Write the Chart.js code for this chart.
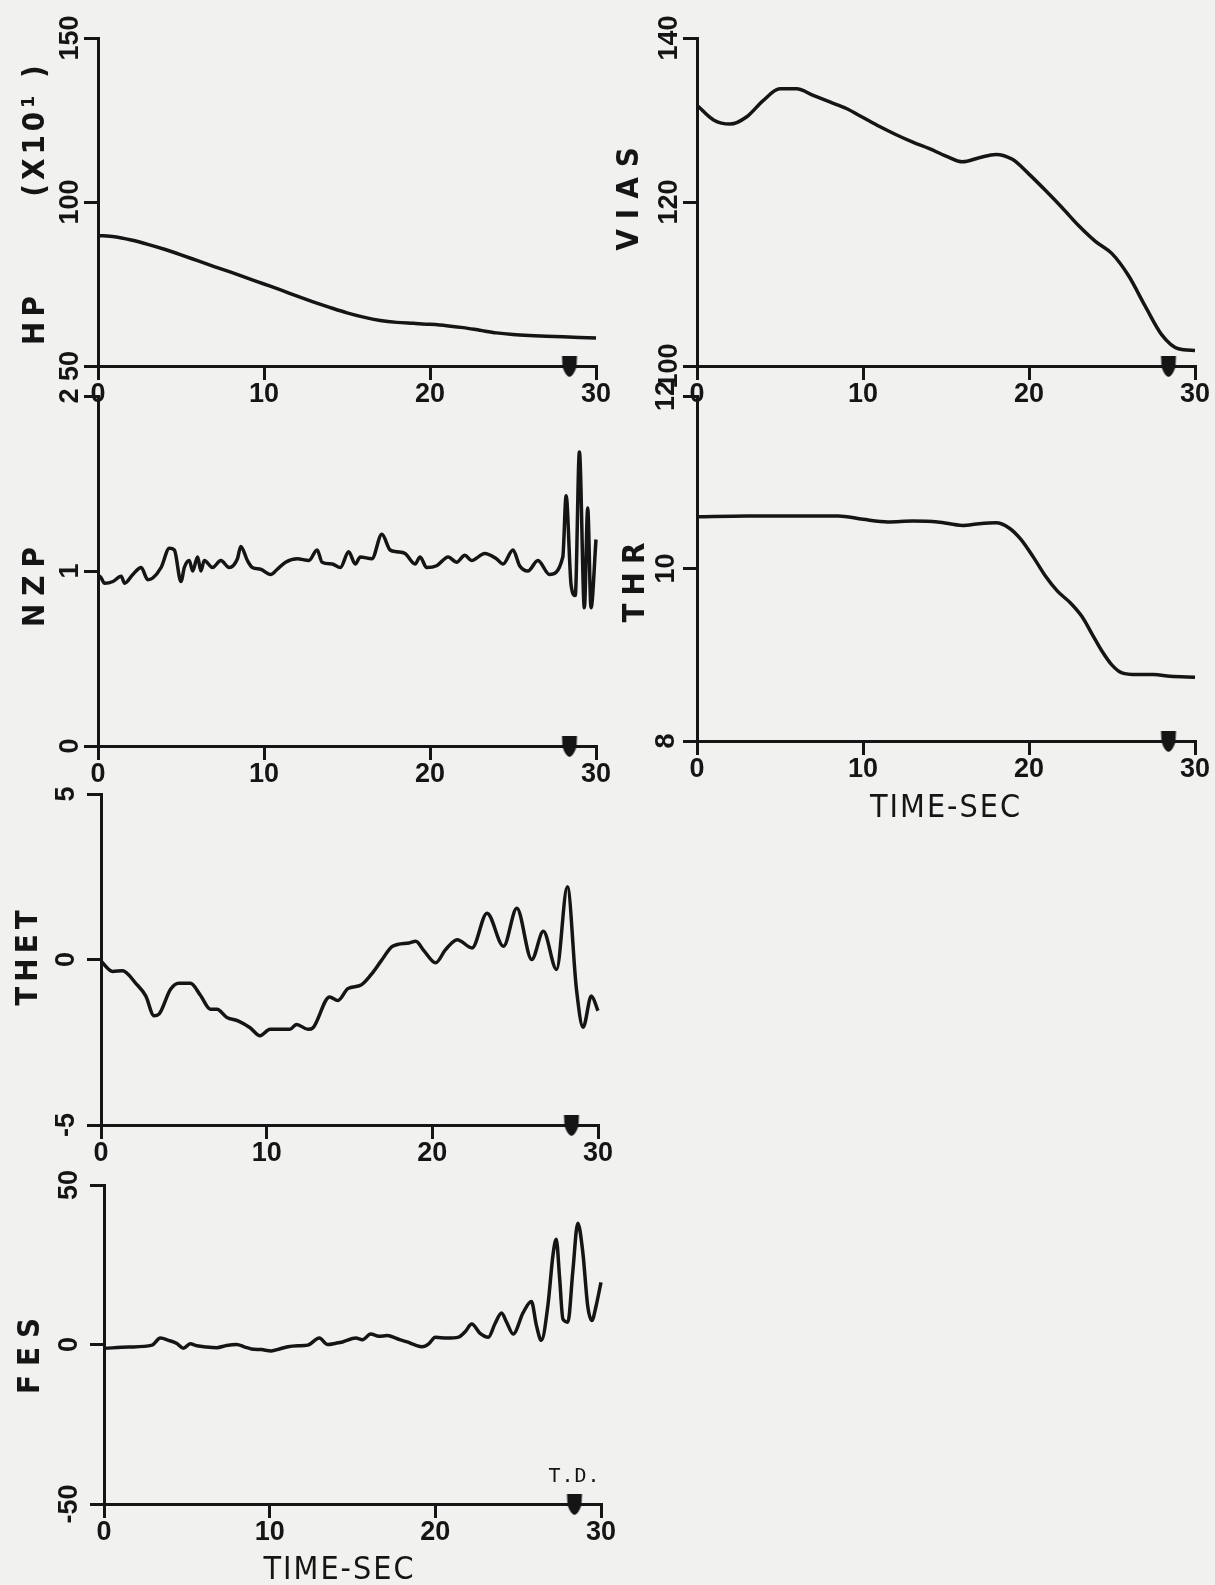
<!DOCTYPE html>
<html>
<head>
<meta charset="utf-8">
<script src="https://cdn.jsdelivr.net/npm/chart.js@4.4.1/dist/chart.umd.min.js"></script>
<style>
    html, body { margin: 0; padding: 0; background: #f1f1ef; }
    body { width: 1215px; height: 1585px; position: relative; overflow: hidden; }
    .panel { position: absolute; }
</style>
</head>
<body>
<div class="panel" id="hpPanel"><canvas id="hpChart"></canvas></div>
<div class="panel" id="viasPanel"><canvas id="viasChart"></canvas></div>
<div class="panel" id="nzpPanel"><canvas id="nzpChart"></canvas></div>
<div class="panel" id="thrPanel"><canvas id="thrChart"></canvas></div>
<div class="panel" id="thetPanel"><canvas id="thetChart"></canvas></div>
<div class="panel" id="fesPanel"><canvas id="fesChart"></canvas></div>

<script>
/*** ===========================
 *  DATA
 *  =========================== ***/
const xTicks = [0, 10, 20, 30];
const tdTime = 28.4; // touchdown marker

// HP and VIAS sampled every second
const secTime = [0, 1, 2, 3, 4, 5, 6, 7, 8, 9, 10, 11, 12, 13, 14, 15, 16, 17, 18, 19, 20, 21, 22, 23, 24, 25, 26, 27, 28, 29, 30];
const hpValues = [89.8, 89.4, 88.4, 87.1, 85.6, 83.9, 82.1, 80.3, 78.6, 76.8, 75.0, 73.2, 71.3, 69.5, 67.8, 66.2,
    64.9, 63.9, 63.3, 63.0, 62.7, 62.3, 61.7, 60.9, 60.1, 59.6, 59.3, 59.1, 58.9, 58.7, 58.5];
const viasValues = [131.8, 130.0, 129.5, 130.4, 132.4, 133.8, 133.8, 133.0, 132.2, 131.4, 130.3, 129.2, 128.2, 127.3,
    126.5, 125.6, 124.9, 125.4, 125.8, 125.2, 123.4, 121.4, 119.3, 117.1, 115.2, 113.7, 111.0, 107.3, 103.8, 102.1, 101.9];

const nzpTime = [0, 0.1, 0.4, 0.9, 1.4, 1.6, 2.1, 2.6, 3.0, 3.3, 3.8, 4.3, 4.6, 5.0, 5.2, 5.5, 5.7, 6.0, 6.2, 6.4,
    6.9, 7.4, 7.9, 8.4, 8.6, 9.0, 9.3, 9.8, 10.4, 10.8, 11.3, 12.0, 12.7, 13.2, 13.5, 14.1, 14.6, 15.1, 15.5, 15.8,
    16.5, 17.1, 17.6, 18.0, 18.5, 19.1, 19.4, 19.8, 20.4, 21.1, 21.6, 22.1, 22.5, 23.3, 24.0, 24.4, 25.0, 25.4, 25.9,
    26.5, 27.2, 28.0, 28.2, 28.5, 28.75, 29.0, 29.3, 29.5, 29.7, 30.0];
const nzpValues = [0.97, 0.97, 0.93, 0.94, 0.97, 0.93, 0.98, 1.02, 0.95, 0.96, 1.02, 1.13, 1.12, 0.94, 1.02, 1.06,
    1.00, 1.08, 1.00, 1.06, 1.02, 1.06, 1.02, 1.07, 1.14, 1.06, 1.02, 1.01, 0.98, 1.01, 1.05, 1.07, 1.06, 1.12, 1.05,
    1.04, 1.02, 1.11, 1.04, 1.08, 1.07, 1.21, 1.12, 1.11, 1.10, 1.04, 1.08, 1.02, 1.03, 1.08, 1.05, 1.09, 1.06, 1.10,
    1.07, 1.04, 1.12, 1.03, 1.00, 1.06, 0.98, 1.08, 1.43, 0.92, 0.86, 1.68, 0.79, 1.36, 0.79, 1.18];

const thrTime = [0, 3, 6, 8.5, 10, 11.5, 13, 14.5, 16, 17, 18, 18.8, 19.5, 20.3, 21, 21.7, 22.5, 23.2, 23.8, 24.4,
    25, 25.6, 26.5, 27.5, 28.5, 30];
const thrValues = [10.60, 10.61, 10.61, 10.61, 10.57, 10.54, 10.55, 10.54, 10.50, 10.52, 10.53, 10.47, 10.34, 10.12,
    9.91, 9.74, 9.60, 9.44, 9.24, 9.04, 8.88, 8.79, 8.77, 8.77, 8.75, 8.74];

const thetTime = [0, 0.7, 1.3, 2.1, 2.7, 3.2, 3.5, 4.2, 4.7, 5.4, 6.0, 6.6, 7.0, 7.6, 8.3, 9.0, 9.6, 10.2, 11.4, 11.8,
    12.5, 12.8, 13.8, 14.3, 14.9, 15.7, 16.3, 16.9, 17.6, 18.6, 19.0, 19.5, 20.2, 20.8, 21.5, 22.4, 23.3, 24.3, 25.1,
    26.0, 26.7, 27.5, 28.15, 28.7, 29.1, 29.6, 30.0];
const thetValues = [-0.05, -0.36, -0.34, -0.72, -1.1, -1.7, -1.65, -0.9, -0.72, -0.72, -1.08, -1.5, -1.5, -1.75,
    -1.86, -2.06, -2.3, -2.11, -2.11, -1.96, -2.11, -2.06, -1.13, -1.24, -0.88, -0.77, -0.46, -0.05, 0.4, 0.5, 0.55,
    0.26, -0.1, 0.3, 0.6, 0.35, 1.4, 0.4, 1.55, 0.0, 0.85, -0.3, 2.2, -0.9, -2.05, -1.1, -1.55];

const fesTime = [0, 1.5, 2.9, 3.4, 3.9, 4.4, 4.8, 5.2, 5.6, 6.2, 6.8, 7.4, 8.0, 8.5, 8.9, 9.5, 10.1, 10.6, 11.1, 11.7,
    12.3, 13.0, 13.5, 14.0, 14.4, 15.2, 15.6, 16.1, 16.6, 17.1, 17.7, 18.3, 18.8, 19.2, 19.6, 20.0, 20.7, 21.4, 21.8,
    22.2, 22.7, 23.2, 23.6, 24.0, 24.3, 24.7, 25.3, 25.8, 26.1, 26.4, 26.8, 27.1, 27.3, 27.5, 27.7, 28.0, 28.3, 28.6,
    28.9, 29.2, 29.45, 29.7, 30.0];
const fesValues = [-1.2, -0.8, -0.2, 2.0, 1.3, 0.3, -1.2, 0.2, -0.4, -0.8, -1.0, -0.3, 0.0, -0.8, -1.4, -1.6, -2.0,
    -1.4, -0.7, -0.4, -0.2, 2.0, 0.0, 0.4, 0.8, 2.0, 1.5, 3.3, 2.6, 2.8, 1.8, 0.8, -0.2, -0.7, 0.2, 2.3, 2.0, 2.3, 4.0,
    6.4, 3.5, 2.3, 6.5, 9.9, 7.0, 3.3, 10.0, 13.5, 6.0, 1.3, 12.5, 28.0, 33.0, 21.0, 8.0, 7.0, 23.0, 38.0, 29.0, 12.0,
    7.5, 12.0, 19.5];

/*** ===========================
 *  SHARED STYLE
 *  =========================== ***/
const INK = "#151515";
const PAD = { left: 110, top: 40, right: 40, bottom: 110 };
const TICK_LEN = 14;
const TICK_FONT = 'bold 27px "Liberation Sans Narrow", "Liberation Sans", sans-serif';
const YTITLE_FONT = 'bold 31px "DejaVu Sans Condensed", "DejaVu Sans", sans-serif';
const XTITLE_FONT = '32px "DejaVu Sans Condensed", "DejaVu Sans", sans-serif';

// touchdown marker: flat top, rounded point below, straddling the axis
const tdMarker = document.createElement("canvas");
tdMarker.width = 20;
tdMarker.height = 40;
(function () {
    const c = tdMarker.getContext("2d");
    c.fillStyle = INK;
    c.beginPath();
    c.moveTo(2.5, 10);
    c.lineTo(17.5, 10);
    c.lineTo(17, 21);
    c.quadraticCurveTo(14, 30, 10, 31);
    c.quadraticCurveTo(6, 30, 3, 21);
    c.closePath();
    c.fill();
})();

function drawText(ctx, text, x, y, font, spacing, rotate) {
    ctx.save();
    ctx.translate(x, y);
    if (rotate) ctx.rotate(-Math.PI / 2);
    ctx.font = font;
    ctx.fillStyle = INK;
    ctx.textAlign = "center";
    ctx.textBaseline = "middle";
    if (spacing && "letterSpacing" in ctx) ctx.letterSpacing = spacing + "px";
    ctx.fillText(text, 0, 0);
    ctx.restore();
}

// tick labels, axis titles and the T.D. note
const panelText = {
    id: "panelText",
    afterDraw(chart, args, opts) {
        const ctx = chart.ctx;
        const area = chart.chartArea;
        const y = chart.scales.y;
        const x = chart.scales.x;
        y.ticks.forEach(t => {
            drawText(ctx, String(t.value), area.left - opts.yLabelOffset, y.getPixelForValue(t.value), TICK_FONT, 0, true);
        });
        x.ticks.forEach(t => {
            drawText(ctx, String(t.value), x.getPixelForValue(t.value), area.bottom + 29, TICK_FONT, 0, false);
        });
        const midY = (area.top + area.bottom) / 2;
        opts.titles.forEach(tt => {
            drawText(ctx, tt.text, area.left - opts.titleOffset, midY + tt.dy, YTITLE_FONT, tt.spacing || 8, true);
        });
        if (opts.xTitle) {
            drawText(ctx, "TIME-SEC", (area.left + area.right) / 2 + opts.xTitle.dx, area.bottom + opts.xTitle.dy, XTITLE_FONT, 2, false);
        }
        if (opts.tdLabel) {
            drawText(ctx, "T.D.", x.getPixelForValue(tdTime), area.bottom - 27, '20px "DejaVu Sans Mono", monospace', 1, false);
        }
    }
};

function makePanel(cfg) {
    const w = (cfg.box.r - cfg.box.l) + PAD.left + PAD.right;
    const h = (cfg.box.b - cfg.box.t) + PAD.top + PAD.bottom;
    const div = document.getElementById(cfg.panelId);
    div.style.left = (cfg.box.l - PAD.left) + "px";
    div.style.top = (cfg.box.t - PAD.top) + "px";
    const canvas = document.getElementById(cfg.canvasId);
    canvas.width = w;
    canvas.height = h;
    canvas.style.width = w + "px";
    canvas.style.height = h + "px";

    const axisGrid = {
        drawOnChartArea: false,
        drawTicks: true,
        tickLength: TICK_LEN,
        tickColor: INK,
        tickWidth: 3,
        color: INK,
        lineWidth: 3
    };
    const axisBorder = { display: true, color: INK, width: 3 };

    return new Chart(canvas.getContext("2d"), {
        type: "line",
        data: {
            datasets: [{
                data: cfg.times.map((t, i) => ({ x: t, y: cfg.values[i] })),
                borderColor: INK,
                borderWidth: 3.5,
                pointRadius: 0,
                cubicInterpolationMode: "monotone",
                fill: false,
                clip: false
            }, {
                data: [{ x: tdTime, y: cfg.yMin }],
                showLine: false,
                pointStyle: tdMarker,
                pointRadius: 10,
                clip: false
            }]
        },
        options: {
            responsive: false,
            animation: false,
            events: [],
            layout: {
                padding: {
                    left: PAD.left - TICK_LEN,
                    top: PAD.top,
                    right: PAD.right,
                    bottom: PAD.bottom - TICK_LEN
                }
            },
            plugins: {
                legend: { display: false },
                tooltip: { enabled: false },
                panelText: cfg.text
            },
            scales: {
                x: {
                    type: "linear",
                    min: xTicks[0],
                    max: xTicks[xTicks.length - 1],
                    afterFit: s => { s.height = TICK_LEN; },
                    afterBuildTicks: s => { s.ticks = xTicks.map(v => ({ value: v })); },
                    ticks: { display: false },
                    grid: axisGrid,
                    border: axisBorder
                },
                y: {
                    type: "linear",
                    min: cfg.yMin,
                    max: cfg.yMax,
                    afterFit: s => { s.width = TICK_LEN; },
                    afterBuildTicks: s => { s.ticks = cfg.yTicks.map(v => ({ value: v })); },
                    ticks: { display: false },
                    grid: axisGrid,
                    border: axisBorder
                }
            }
        },
        plugins: [panelText]
    });
}

/*** ===========================
 *  PANELS
 *  =========================== ***/
document.addEventListener("DOMContentLoaded", function () {
    makePanel({
        panelId: "hpPanel", canvasId: "hpChart",
        box: { l: 98, r: 596, t: 38, b: 366 },
        times: secTime, values: hpValues,
        yMin: 50, yMax: 150, yTicks: [50, 100, 150],
        text: { yLabelOffset: 27, titleOffset: 62, titles: [{ text: "HP", dy: 116, spacing: 5 }, { text: "(X10\u00B9 )", dy: -73, spacing: 4 }] }
    });
    makePanel({
        panelId: "viasPanel", canvasId: "viasChart",
        box: { l: 697, r: 1195, t: 38, b: 366 },
        times: secTime, values: viasValues,
        yMin: 100, yMax: 140, yTicks: [100, 120, 140],
        text: { yLabelOffset: 27, titleOffset: 67, titles: [{ text: "VIAS", dy: -8, spacing: 10 }] }
    });
    makePanel({
        panelId: "nzpPanel", canvasId: "nzpChart",
        box: { l: 98, r: 596, t: 396, b: 746 },
        times: nzpTime, values: nzpValues,
        yMin: 0, yMax: 2, yTicks: [0, 1, 2],
        text: { yLabelOffset: 27, titleOffset: 62, titles: [{ text: "NZP", dy: 12 }] }
    });
    makePanel({
        panelId: "thrPanel", canvasId: "thrChart",
        box: { l: 697, r: 1195, t: 396, b: 741 },
        times: thrTime, values: thrValues,
        yMin: 8, yMax: 12, yTicks: [8, 10, 12],
        text: { yLabelOffset: 30, titleOffset: 61, titles: [{ text: "THR", dy: 10 }], xTitle: { dx: 0, dy: 68 } }
    });
    makePanel({
        panelId: "thetPanel", canvasId: "thetChart",
        box: { l: 101, r: 598, t: 794, b: 1125 },
        times: thetTime, values: thetValues,
        yMin: -5, yMax: 5, yTicks: [-5, 0, 5],
        text: { yLabelOffset: 34, titleOffset: 72, titles: [{ text: "THET", dy: -4, spacing: 5 }] }
    });
    makePanel({
        panelId: "fesPanel", canvasId: "fesChart",
        box: { l: 104, r: 601, t: 1185, b: 1504 },
        times: fesTime, values: fesValues,
        yMin: -50, yMax: 50, yTicks: [-50, 0, 50],
        text: { yLabelOffset: 34, titleOffset: 73, titles: [{ text: "FES", dy: 7, spacing: 9 }], xTitle: { dx: -13, dy: 67 }, tdLabel: true }
    });
});
</script>
</body>
</html>
